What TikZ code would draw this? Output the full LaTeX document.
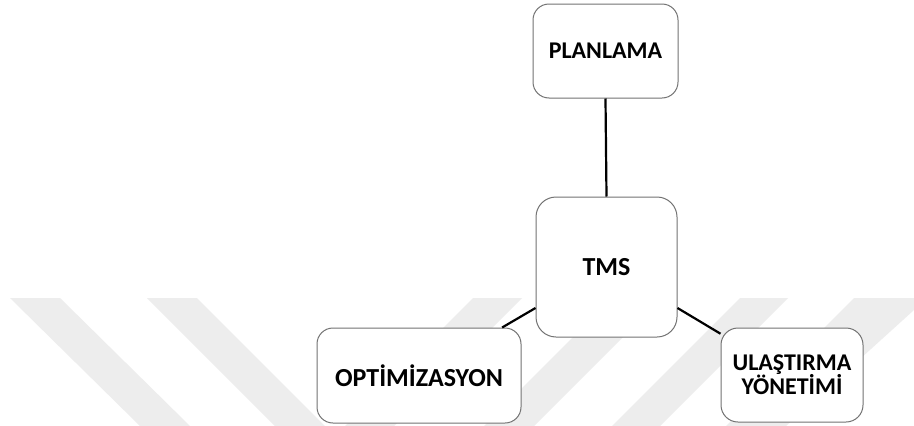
\documentclass[tikz,border=0pt]{standalone}
\usepackage{fontspec}
\setmainfont{Carlito}
\tikzset{
  box/.style={draw=black!55, line width=1pt, fill=white, rounded corners=16pt,
              inner sep=0pt, align=center, font=\bfseries},
  link/.style={draw=black, line width=2.2pt},
  wmark/.style={fill=black!7, draw=none}
}
\begin{document}
\begin{tikzpicture}[x=1pt, y=-1pt]
  % canvas
  \fill[white] (0,0) rectangle (914,426);
  \useasboundingbox (0,0) rectangle (914,426);

  % faint diagonal background stripes
  \fill[wmark] (10,298) -- (60,298) -- (190,426) -- (140,426) -- cycle;
  \fill[wmark] (147,298) -- (197,298) -- (325,426) -- (275,426) -- cycle;
  \fill[wmark] (473,298) -- (522,298) -- (394,426) -- (345,426) -- cycle;
  \fill[wmark] (612,298) -- (662,298) -- (534,426) -- (484,426) -- cycle;
  \fill[wmark] (740,298) -- (788,298) -- (660,426) -- (612,426) -- cycle;
  \fill[wmark] (854,298) -- (914,298) -- (914,310) -- (786,426) -- (726,426) -- cycle;

  % nodes
  \node[box, minimum width=145pt, minimum height=94pt, font=\bfseries\fontsize{24}{24}\selectfont]
    (plan) at (605.5,51) {PLANLAMA};
  \node[box, rounded corners=20pt, minimum width=141pt, minimum height=140pt,
        font=\bfseries\fontsize{26}{26}\selectfont]
    (tms) at (606.5,267) {TMS};
  \node[box, minimum width=204pt, minimum height=95pt, font=\bfseries\fontsize{26}{26}\selectfont]
    (opt) at (419,375.5) {OPT\.{I}M\.{I}ZASYON};
  \node[box, rounded corners=17pt, minimum width=142pt, minimum height=94pt,
        font=\bfseries\fontsize{24}{24}\selectfont]
    (ulas) at (792,375) {ULAŞTIRMA\\[-1pt]YÖNET\.{I}M\.{I}};

  % connectors
  \draw[link] (plan.south) -- (tms.north);
  \draw[link] (opt.30) -- (tms.210);
  \draw[link] (tms.-30) -- (ulas.150);
\end{tikzpicture}
\end{document}
